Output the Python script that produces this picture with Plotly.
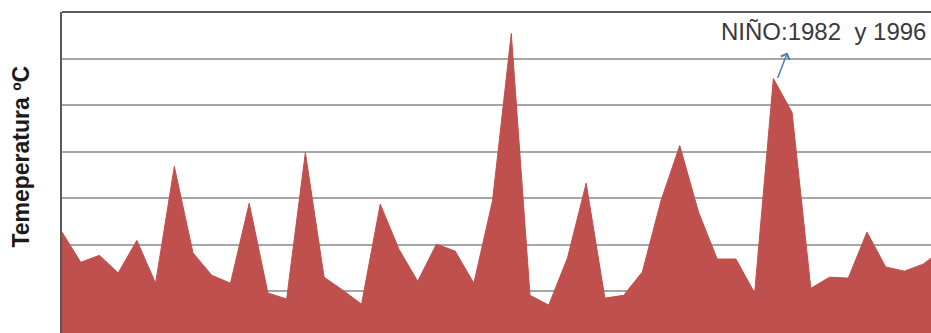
import plotly.graph_objects as go

# Data (y in °C, arbitrary baseline, one value per period)
periodo = list(range(48))
temperatura = [22.27, 21.62, 21.77, 21.39, 22.09, 21.17, 23.68, 21.82, 21.34, 21.17,
               22.89, 20.96, 20.83, 23.98, 21.30, 21.02, 20.72, 22.87, 21.90, 21.21,
               22.01, 21.86, 21.17, 22.95, 26.54, 20.91, 20.70, 21.71, 23.32, 20.85,
               20.91, 21.41, 22.95, 24.13, 22.70, 21.69, 21.69, 20.96, 25.57, 24.84,
               21.06, 21.30, 21.28, 22.27, 21.52, 21.43, 21.58, 21.88]
pico_idx = 38
titulo_y = "Temeperatura ºC"
nota = "NIÑO:1982\u00a0 y 1996"

W, H = 931, 333
ML, MT = 62, 12

fig = go.Figure()
fig.add_trace(go.Scatter(
    x=periodo, y=temperatura, mode="lines", fill="tozeroy",
    line=dict(color="#C0504D", width=1), fillcolor="#C0504D",
    hoverinfo="skip", showlegend=False))

fig.update_layout(
    width=W, height=H,
    margin=dict(l=ML, r=0, t=MT, b=0, pad=0),
    paper_bgcolor="white", plot_bgcolor="white",
    xaxis=dict(range=[0, 46.42], showgrid=False, zeroline=False,
               showticklabels=False, ticks="", showline=False),
    yaxis=dict(range=[20.1, 27], dtick=1, tick0=20, showgrid=True,
               gridcolor="#A6A6A6", gridwidth=2, zeroline=False,
               showticklabels=False, ticks="",
               showline=True, linecolor="#595959", linewidth=2),
    shapes=[dict(type="line", xref="paper", yref="paper", x0=0, x1=1, y0=1, y1=1,
                 line=dict(color="#595959", width=2))],
    annotations=[
        dict(text=titulo_y, textangle=-90, xref="paper", yref="paper",
             x=-0.047, y=0.55, xanchor="center", yanchor="middle",
             showarrow=False,
             font=dict(family="Liberation Sans, Arial", size=23, color="#1a1a1a",
                       weight="bold")),
        dict(text=nota, xref="paper", yref="paper", x=0.9965, y=0.94,
             xanchor="right", yanchor="middle", showarrow=False,
             font=dict(family="Liberation Sans, Arial", size=24, color="#3a3a3a")),
        dict(text="", x=pico_idx + 0.75, y=temperatura[pico_idx] + 0.56,
             ax=pico_idx + 0.2, ay=temperatura[pico_idx] - 0.02,
             xref="x", yref="y", axref="x", ayref="y",
             showarrow=True, arrowhead=4, arrowsize=1.2, arrowwidth=1.5,
             arrowcolor="#4A7EBB", standoff=0, startstandoff=0),
    ],
)

fig.write_html("out.html")
